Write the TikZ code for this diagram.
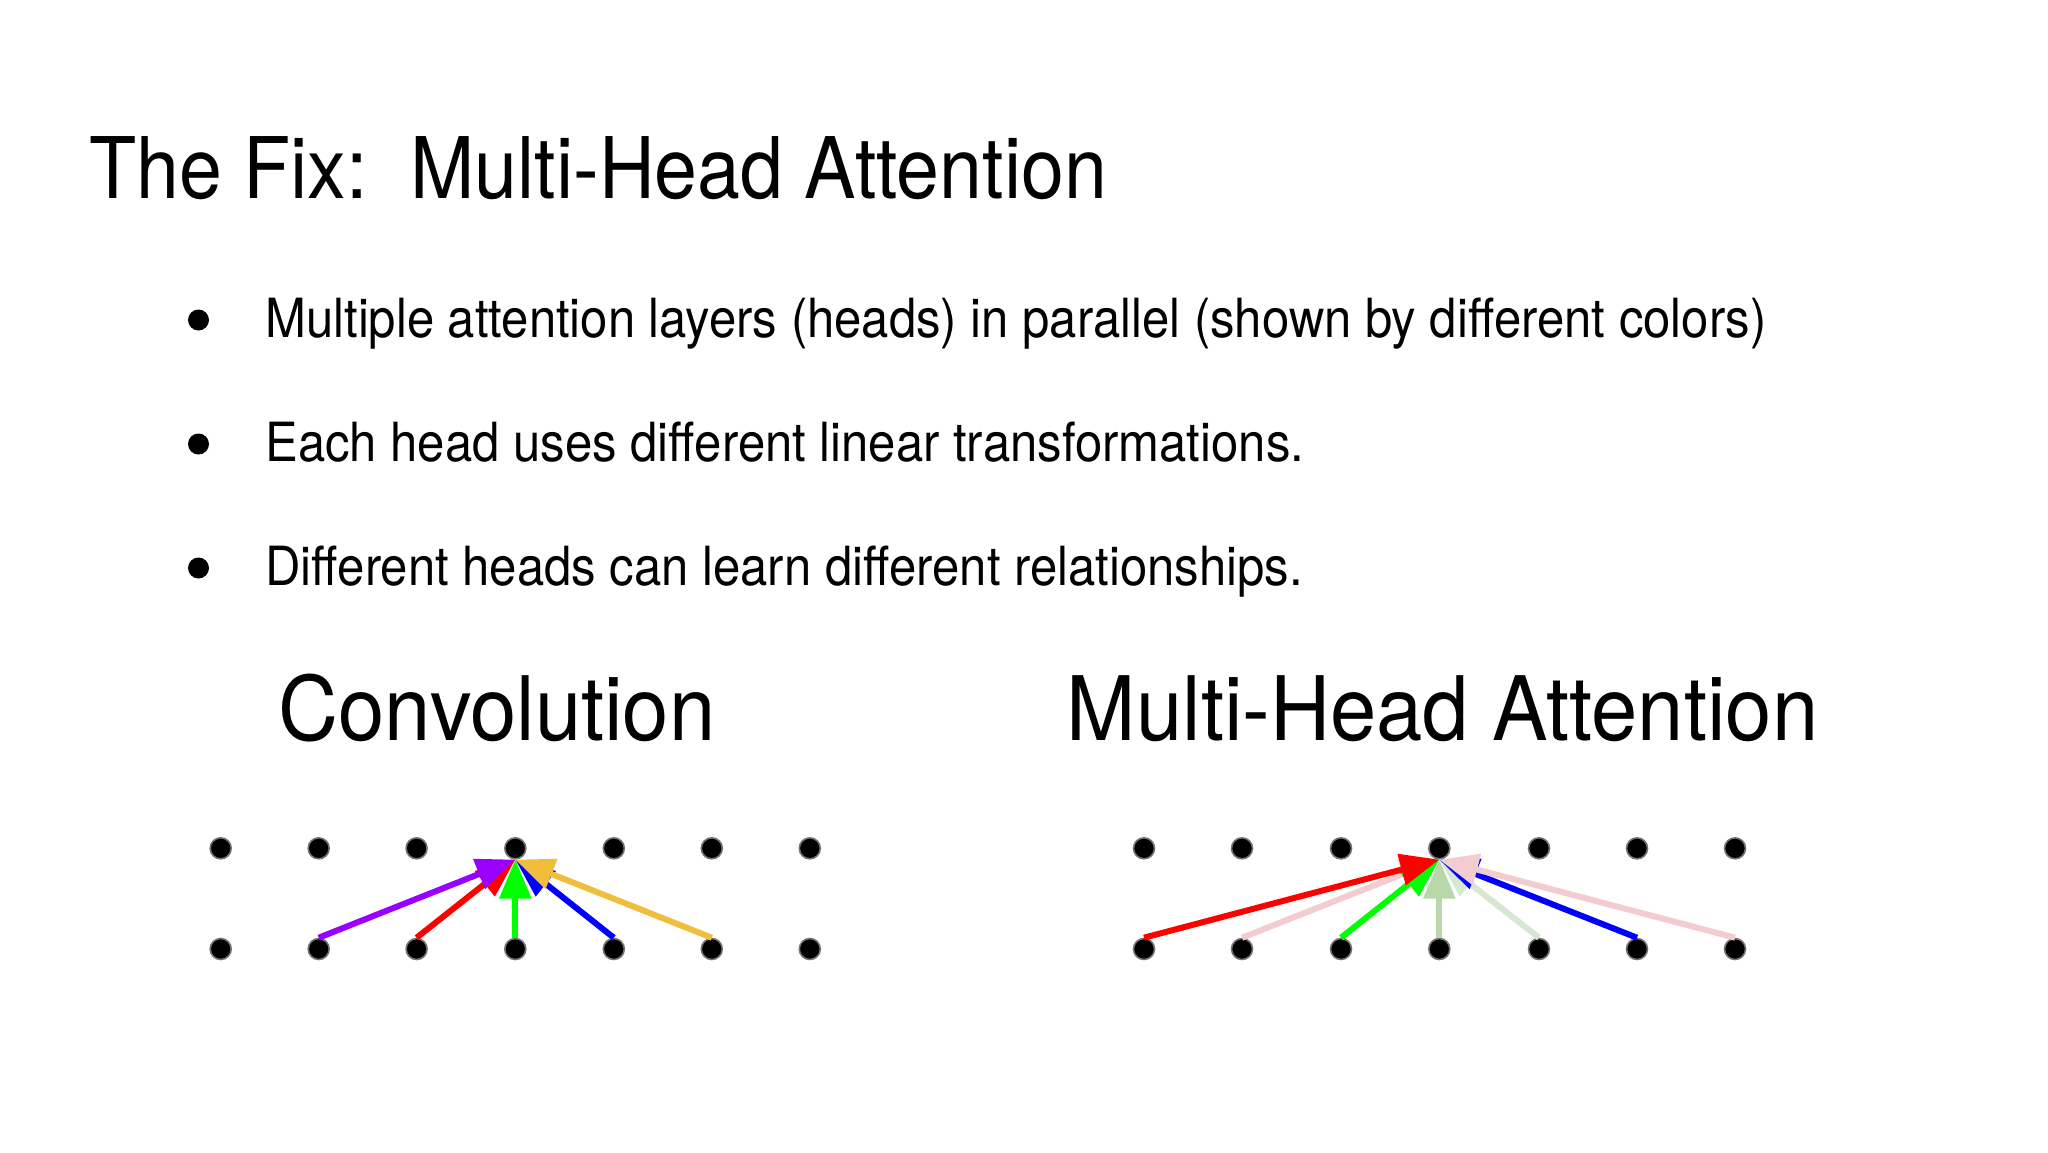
\documentclass[tikz,border=0pt]{standalone}
\usepackage{fontspec}
\setmainfont{TeX Gyre Heros}
\newfontfamily\titlefont[FakeStretch=0.907]{TeX Gyre Heros}
\newfontfamily\bulletfont[FakeStretch=0.908]{TeX Gyre Heros}
\newfontfamily\subfont[FakeStretch=0.935]{TeX Gyre Heros}
\usetikzlibrary{arrows.meta}
\definecolor{cpurple}{RGB}{153,0,255}
\definecolor{corange}{RGB}{240,190,60}
\definecolor{cpink}{RGB}{242,204,206}
\definecolor{clgreen}{RGB}{184,216,170}
\definecolor{cvlgreen}{RGB}{214,231,210}
\tikzset{
  dot/.style={circle,fill=black,draw=black!55,line width=0.8pt,minimum size=10.5pt,inner sep=0pt},
  bul/.style={circle,fill=black,minimum size=10.5pt,inner sep=0pt},
  arr/.style={line width=3pt,-{Triangle[length=19.5pt,width=15.5pt]}},
  titletxt/.style={anchor=base west,inner sep=0pt,font=\titlefont\fontsize{42.5pt}{50pt}\selectfont},
  bultxt/.style={anchor=base west,inner sep=0pt,font=\bulletfont\fontsize{27pt}{32pt}\selectfont},
  subtxt/.style={anchor=base,inner sep=0pt,font=\subfont\fontsize{44.5pt}{52pt}\selectfont},
}
\begin{document}
\begin{tikzpicture}[x=0.5pt,y=-0.5pt]
\useasboundingbox[fill=white] (0,0) rectangle (2048,1152);
\node[titletxt] (title) at (89,198.5) {The Fix:\ \ Multi-Head Attention};
\node[bul] (b1) at (198.5,320) {};
\node[bultxt] (l1) at (265,337) {Multiple attention layers (heads) in parallel (shown by different colors)};
\node[bul] (b2) at (198.5,444) {};
\node[bultxt] (l2) at (265,461) {Each head uses different linear transformations.};
\node[bul] (b3) at (198.5,568) {};
\node[bultxt] (l3) at (265,585) {Different heads can learn different relationships.};
\node[subtxt] (conv) at (497,740.5) {Convolution};
\node[subtxt] (mha) at (1442.6,740.5) {Multi-Head Attention};
% convolution dots
\foreach \i/\x in {1/220.7,2/318.7,3/416.6,4/515.3,5/613.8,6/711.8,7/809.8}{
  \node[dot] (ct\i) at (\x,848.3) {};
  \node[dot] (cb\i) at (\x,949) {};
}
% attention dots
\foreach \i/\x in {1/1144,2/1242,3/1341,4/1439.3,5/1539,6/1637,7/1735}{
  \node[dot] (at\i) at (\x,848.3) {};
  \node[dot] (ab\i) at (\x,949) {};
}
% convolution arrows
\draw[arr,green] (cb4.north) -- (ct4.south);
\draw[arr,red] (cb3.north) -- (ct4.south);
\draw[arr,blue] (cb5.north) -- (ct4.south);
\draw[arr,cpurple] (cb2.north) -- (ct4.south);
\draw[arr,corange] (cb6.north) -- (ct4.south);
% attention arrows
\draw[arr,cvlgreen] (ab5.north) -- (at4.south);
\draw[arr,clgreen] (ab4.north) -- (at4.south);
\draw[arr,cpink] (ab2.north) -- (at4.south);
\draw[arr,green] (ab3.north) -- (at4.south);
\draw[arr,blue] (ab6.north) -- (at4.south);
\draw[arr,red] (ab1.north) -- (at4.south);
\draw[arr,cpink] (ab7.north) -- (at4.south);
\end{tikzpicture}
\end{document}
